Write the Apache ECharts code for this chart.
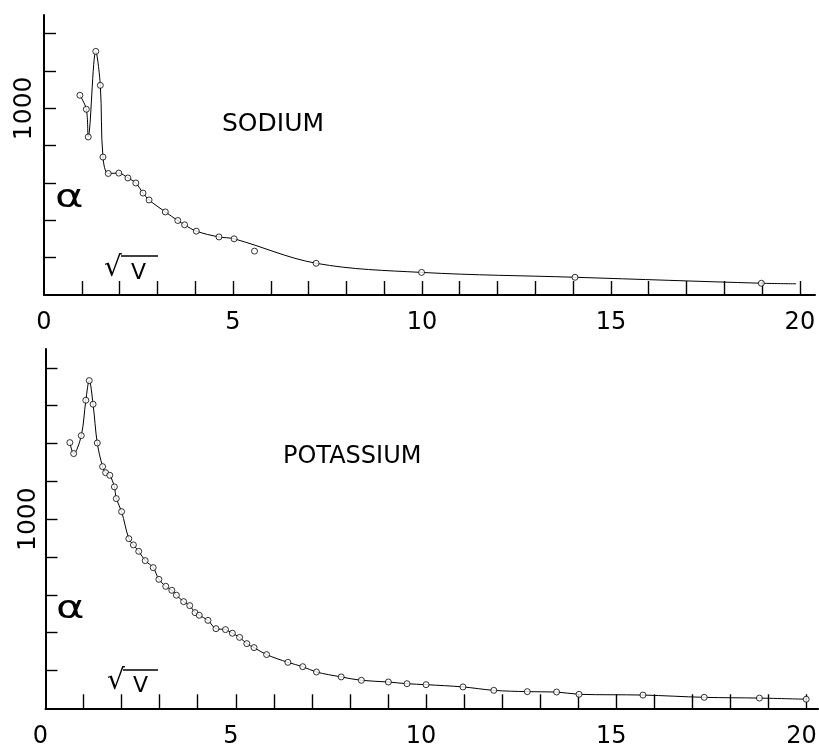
<!DOCTYPE html>
<html>
<head>
<meta charset="utf-8">
<script src="https://cdn.jsdelivr.net/npm/echarts@6/dist/echarts.min.js"></script>
<style>
  html, body { margin: 0; padding: 0; background: #fff; }
  #chart { width: 819px; height: 745px; }
</style>
</head>
<body>
<div id="chart"></div>
<script>
// sodium: measured points (sqrt V, alpha)
const naSqrtV = [0.95, 1.12, 1.17, 1.37, 1.49, 1.56, 1.70, 1.98, 2.22, 2.43, 2.62, 2.78, 3.21, 3.54, 3.72, 4.03, 4.63, 5.03, 5.57, 7.20, 9.99, 14.05, 18.98]
const naAlpha = [1070, 995, 847, 1305, 1123, 739, 651, 653, 627, 600, 546, 509, 445, 399, 376, 342, 311, 301, 235, 170, 121, 95, 63]
// points the drawn curve skips, and where the curve stops
const naOffCurve = [5.57]
const naCurveEnd = [19.9, 60]

// potassium: measured points
const kSqrtV = [0.64, 0.74, 0.94, 1.06, 1.15, 1.25, 1.36, 1.50, 1.58, 1.69, 1.81, 1.86, 2.00, 2.19, 2.31, 2.45, 2.62, 2.83, 2.98, 3.16, 3.32, 3.44, 3.63, 3.79, 3.93, 4.04, 4.27, 4.48, 4.73, 4.91, 5.10, 5.29, 5.48, 5.81, 6.37, 6.76, 7.12, 7.77, 8.30, 9.01, 9.50, 10.0, 10.97, 11.78, 12.66, 13.43, 14.02, 15.70, 17.31, 18.76, 19.99]
const kAlpha = [1405, 1347, 1442, 1629, 1733, 1608, 1403, 1278, 1246, 1232, 1171, 1109, 1040, 897, 864, 830, 781, 744, 682, 645, 624, 598, 564, 543, 506, 492, 465, 421, 416, 397, 375, 342, 321, 284, 243, 220, 192, 166, 148, 139, 130, 125, 113, 95, 88, 86, 74, 70, 58, 54, 48]

// axis ticks and labels
const xTicks = [1, 2, 3, 4, 5, 6, 7, 8, 9, 10, 11, 12, 13, 14, 15, 16, 17, 18, 19, 20]
const xLabels = [0, 5, 10, 15, 20]
const naYTicks = [200, 400, 600, 800, 1000, 1200, 1400]
const kYTicks = [200, 400, 600, 800, 1000, 1200, 1400, 1600, 1800]
const yLabels = [1000]

const font = 'DejaVu Sans'

function pairs(xs, ys) {
  return xs.map((x, i) => [x, ys[i]])
}

const naPoints = pairs(naSqrtV, naAlpha)
const naCurve = naPoints.filter(p => naOffCurve.indexOf(p[0]) < 0).concat([naCurveEnd])
const kPoints = pairs(kSqrtV, kAlpha)

function xAxis(idx, max, margin, padRight) {
  return {
    type: 'value',
    gridIndex: idx,
    min: 0,
    max: max,
    axisLine: { show: true, lineStyle: { color: '#000', width: 2 } },
    axisTick: { show: true, inside: true, length: 14, customValues: xTicks, lineStyle: { color: '#000', width: 1.4 } },
    axisLabel: {
      customValues: xLabels,
      margin: margin,
      padding: [0, padRight, 0, 0],
      color: '#000',
      fontFamily: font,
      fontSize: 24
    },
    splitLine: { show: false }
  }
}

function yAxis(idx, max, ticks, margin) {
  return {
    type: 'value',
    gridIndex: idx,
    min: 0,
    max: max,
    axisLine: { show: true, lineStyle: { color: '#000', width: 2 } },
    axisTick: { show: true, inside: true, length: 12, customValues: ticks, lineStyle: { color: '#000', width: 1.4 } },
    axisLabel: {
      customValues: yLabels,
      rotate: 90,
      margin: margin,
      color: '#000',
      fontFamily: font,
      fontSize: 25,
      formatter: function(v) { return String(v) }
    },
    splitLine: { show: false }
  }
}

function curve(idx, data) {
  return {
    type: 'line',
    xAxisIndex: idx,
    yAxisIndex: idx,
    data: data,
    smooth: 0.35,
    showSymbol: false,
    lineStyle: { color: '#000', width: 1 },
    silent: true,
    z: 2
  }
}

function dots(idx, data) {
  return {
    type: 'scatter',
    xAxisIndex: idx,
    yAxisIndex: idx,
    data: data,
    symbol: 'circle',
    symbolSize: 6,
    itemStyle: { color: '#fff', borderColor: '#000', borderWidth: 1 },
    silent: true,
    z: 3
  }
}

function label(text, x, y, size, extra) {
  return Object.assign({
    type: 'text',
    x: x,
    y: y,
    style: { text: text, fill: '#000', font: size + 'px "' + font + '"', verticalAlign: 'middle' }
  }, extra || {})
}

function bar(x1, x2, y) {
  return {
    type: 'line',
    shape: { x1: x1, y1: y, x2: x2, y2: y },
    style: { stroke: '#000', lineWidth: 1.4 }
  }
}

var myChart = echarts.init(document.getElementById('chart'), null, { renderer: 'canvas' })
const option = {
  backgroundColor: '#fff',
  animation: false,
  grid: [
    { left: 44, right: 4, top: 15, bottom: 450, outerBoundsMode: 'none' },
    { left: 45.5, right: 1, top: 349, bottom: 36.7, outerBoundsMode: 'none' }
  ],
  xAxis: [xAxis(0, 20.4, 16, 0), xAxis(1, 20.3, 16, 10)],
  yAxis: [yAxis(0, 1500, naYTicks, 7), yAxis(1, 1900, kYTicks, 5)],
  series: [
    curve(0, naCurve),
    dots(0, naPoints),
    curve(1, kPoints),
    dots(1, kPoints)
  ],
  graphic: [
    label('SODIUM', 222, 124, 25),
    label('POTASSIUM', 283, 457, 24),
    label('α', 55, 199, 32, { scaleX: 1.35 }),
    label('α', 56, 610, 32, { scaleX: 1.35 }),
    label('√', 104, 269, 28),
    label('V', 131, 273, 22),
    bar(121, 158, 256),
    label('√', 107, 682, 28),
    label('V', 133, 686, 22),
    bar(123, 158, 670)
  ]
}
myChart.setOption(option)
</script>
</body>
</html>
